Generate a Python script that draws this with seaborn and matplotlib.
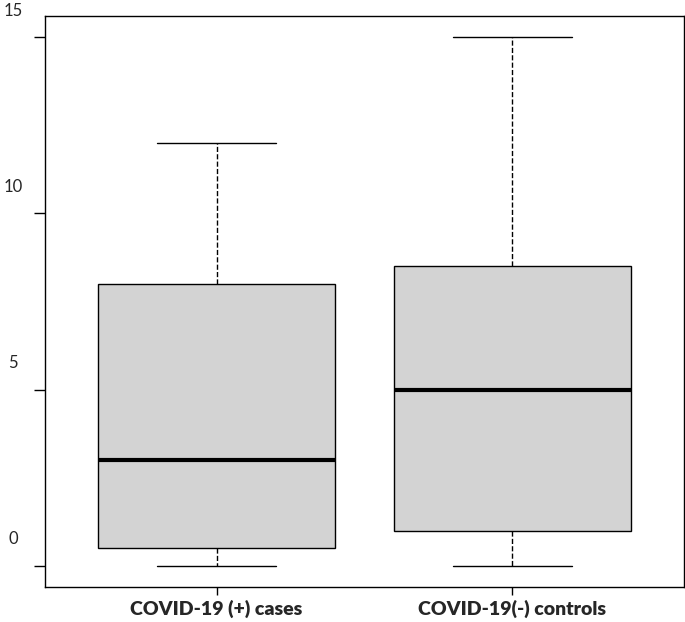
import matplotlib
matplotlib.use("Agg")
import matplotlib.pyplot as plt
import matplotlib.transforms as mtransforms
import seaborn as sns
import pandas as pd

# five-number summaries (min, Q1, median, Q3, max)
groups = ["COVID-19 (+) cases", "COVID-19(-) controls"]
cases_values = [0, 0.5, 3, 8, 12]
controls_values = [0, 1, 5, 8.5, 15]
y_ticks = [0, 5, 10, 15]

df = pd.DataFrame({
    "group": [groups[0]] * len(cases_values) + [groups[1]] * len(controls_values),
    "value": cases_values + controls_values,
})

sns.set_style("white")
plt.rcParams["font.family"] = ["Lato", "DejaVu Sans"]

fig = plt.figure(figsize=(6.85, 6.22), dpi=100)
ax = fig.add_axes([45 / 685, 35 / 622, 639 / 685, 571 / 622])

sns.boxplot(data=df, x="group", y="value", ax=ax, width=0.8,
            color="#d3d3d3", saturation=1, linecolor="black", linewidth=1,
            whis=1.5,
            boxprops=dict(facecolor="#d3d3d3", edgecolor="black", linewidth=1),
            whiskerprops=dict(linestyle="--", linewidth=1, color="black"),
            capprops=dict(linewidth=1, color="black"),
            medianprops=dict(linewidth=3, color="black"))

ax.set_xlim(0.42 - 1, 2.58 - 1)
ax.set_ylim(-0.6, 15.6)
ax.set_xlabel("")
ax.set_ylabel("")

for s in ax.spines.values():
    s.set_visible(True)
    s.set_color("black")
    s.set_linewidth(1)

ax.set_yticks(y_ticks)
ax.set_yticklabels([str(t) for t in y_ticks], fontsize=12)
ax.tick_params(axis="y", left=True, length=8, width=1, color="black", pad=15)
ax.tick_params(axis="x", bottom=True, length=6, width=1, color="black", pad=3)
for lab in ax.get_xticklabels():
    lab.set_fontweight("heavy")
    lab.set_fontsize(14)

# y labels sit above their ticks in the original
shift = mtransforms.ScaledTranslation(0, 0.28, fig.dpi_scale_trans)
for lab in ax.get_yticklabels():
    lab.set_ha("center")
    lab.set_transform(lab.get_transform() + shift)

fig.savefig("out.png", dpi=100)
